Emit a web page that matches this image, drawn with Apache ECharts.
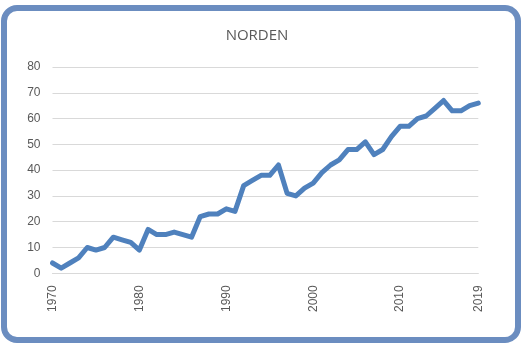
<!DOCTYPE html>
<html>
<head>
<meta charset="utf-8">
<style>
  html, body { margin: 0; padding: 0; background: #ffffff; }
  #frame {
    position: absolute; left: 1px; top: 5px; width: 520px; height: 338px;
    box-sizing: border-box; border: 6px solid #6b8dc0; border-radius: 16px;
  }
  #chart { position: absolute; left: 0; top: 0; width: 524px; height: 348px; }
</style>
<script src="https://cdn.jsdelivr.net/npm/echarts@6/dist/echarts.min.js"></script>
</head>
<body>
<div id="frame"></div>
<div id="chart"></div>
<script>
// Years on the category axis
const years = [];
for (let y = 1970; y <= 2019; y++) years.push(String(y));

// Yearly values, 1970–2019
const values = [
  4, 2, 4, 6, 10, 9, 10, 14, 13, 12,
  9, 17, 15, 15, 16, 15, 14, 22, 23, 23,
  25, 24, 34, 36, 38, 38, 42, 31, 30, 33,
  35, 39, 42, 44, 48, 48, 51, 46, 48, 53,
  57, 57, 60, 61, 64, 67, 63, 63, 65, 66
];

// Years that get a label under the axis
const labelledYears = ['1970', '1980', '1990', '2000', '2010', '2019'];

const chart = echarts.init(document.getElementById('chart'), null, { renderer: 'canvas' });
chart.setOption({
  animation: false,
  backgroundColor: 'transparent',
  title: {
    text: 'NORDEN',
    left: 252,
    textAlign: 'center',
    top: 23,
    textStyle: { fontFamily: 'Open Sans', fontSize: 15, fontWeight: 'normal', color: '#595959' }
  },
  grid: { left: 52.5, right: 45.7, top: 67, bottom: 74.7, containLabel: false },
  xAxis: {
    type: 'category',
    data: years,
    boundaryGap: false,
    axisLine: { show: true, lineStyle: { color: '#d9d9d9', width: 1 } },
    axisTick: { show: false },
    axisLabel: {
      interval: (i, v) => labelledYears.includes(v),
      rotate: 90,
      margin: 12,
      fontFamily: 'Liberation Sans',
      fontSize: 12,
      color: '#595959'
    },
    splitLine: { show: false }
  },
  yAxis: {
    type: 'value',
    min: 0,
    max: 80,
    interval: 10,
    axisLine: { show: false },
    axisTick: { show: false },
    axisLabel: { margin: 12, fontFamily: 'Liberation Sans', fontSize: 12, color: '#595959' },
    splitLine: { lineStyle: { color: '#d9d9d9', width: 1 } }
  },
  series: [{
    type: 'line',
    data: values,
    showSymbol: false,
    symbol: 'none',
    lineStyle: { color: '#4f81bd', width: 5, cap: 'round', join: 'round' }
  }]
});
</script>
</body>
</html>
